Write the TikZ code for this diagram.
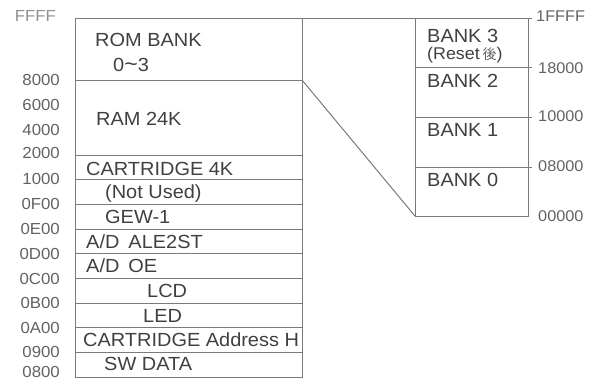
\documentclass[tikz,border=0pt]{standalone}
\usepackage{fontspec}
\setmainfont{Liberation Sans}[FakeStretch=1.05]
\newfontfamily\cjkfont{Noto Sans CJK JP}
\definecolor{txt}{HTML}{404040}
\definecolor{lbl}{HTML}{626262}
\definecolor{lin}{HTML}{7A7A7A}
\begin{document}
\begin{tikzpicture}[x=1pt,y=-1pt,
  boxtext/.style={anchor=base west,inner sep=0pt,text=txt,font=\fontsize{19}{21}\selectfont},
  addr/.style={anchor=east,inner sep=0pt,text=lbl,font=\fontsize{16}{18}\selectfont},
  raddr/.style={anchor=west,inner sep=0pt,text=lbl,font=\fontsize{15.5}{17}\selectfont},
  rule/.style={draw=lin,line width=1pt}]
\useasboundingbox (0,0) rectangle (591,381);
% left memory map
\coordinate (LT) at (75,18);
\coordinate (LB) at (302,377);
\draw[rule] (LT) rectangle (LB);
\coordinate (Lr8000) at (302,80);
\draw[rule] (75,80) -- (Lr8000);
\foreach \y in {155,179.7,204.4,229.1,253.8,278.5,303.2,327.9,352.6}{
  \draw[rule] (75,\y) -- (302,\y);
}
% top line continues to right map
\coordinate (RT) at (415,18);
\coordinate (RB) at (528,216);
\draw[rule] (302,18) -- (RT);
\draw[rule] (RT) rectangle (RB);
\foreach \y in {18,67,117,167}{
  \draw[rule] (415,\y) -- (532,\y);
}
\coordinate (RBL) at (415,216);
\draw[rule] (Lr8000) -- (RBL);
% left box texts
\node[boxtext] (rom) at (95,46) {ROM BANK};
\node[boxtext] (rom2) at (113,71) {0{\fontsize{22}{22}\selectfont\textasciitilde}3};
\node[boxtext] (ram) at (96,125) {RAM 24K};
\node[boxtext] (cart) at (86,175) {CARTRIDGE 4K};
\node[boxtext] (nu) at (105,198) {(Not Used)};
\node[boxtext] (gew) at (105,223) {GEW-1};
\node[boxtext] (ale) at (86,248) {A/D\hspace{9pt}ALE2ST};
\node[boxtext] (oe) at (86,272) {A/D\hspace{9pt}OE};
\node[boxtext] (lcd) at (147,297) {LCD};
\node[boxtext] (led) at (143,322) {LED};
\node[boxtext] (cah) at (83,346) {CARTRIDGE Address H};
\node[boxtext] (sw) at (104,370) {SW DATA};
% right box texts
\node[boxtext] (b3) at (427,42) {BANK 3};
\node[boxtext,font=\fontsize{17}{19}\selectfont] (rst) at (427,59) {(Reset\,{\cjkfont\fontsize{14}{15}\selectfont\color{lbl}後})};
\node[boxtext] (b2) at (427,87) {BANK 2};
\node[boxtext] (b1) at (427,136) {BANK 1};
\node[boxtext] (b0) at (427,186) {BANK 0};
% left addresses
\node[addr,text=lbl!70] (aFFFF) at (56,16) {FFFF};
\node[addr] (a8000) at (60,80) {8000};
\node[addr] (a6000) at (60,105) {6000};
\node[addr] (a4000) at (60,130) {4000};
\node[addr] (a2000) at (60,153) {2000};
\node[addr] (a1000) at (60,179) {1000};
\node[addr] (a0F00) at (60,204) {0F00};
\node[addr] (a0E00) at (60,229) {0E00};
\node[addr] (a0D00) at (60,254) {0D00};
\node[addr] (a0C00) at (60,279) {0C00};
\node[addr] (a0B00) at (60,303) {0B00};
\node[addr] (a0A00) at (60,328) {0A00};
\node[addr] (a0900) at (60,352) {0900};
\node[addr] (a0800) at (60,372) {0800};
% right addresses
\node[raddr] (r1FFFF) at (536,16) {1FFFF};
\node[raddr] (r18000) at (538,68) {18000};
\node[raddr] (r10000) at (538,116) {10000};
\node[raddr] (r08000) at (538,166) {08000};
\node[raddr] (r00000) at (538,216) {00000};
\end{tikzpicture}
\end{document}
